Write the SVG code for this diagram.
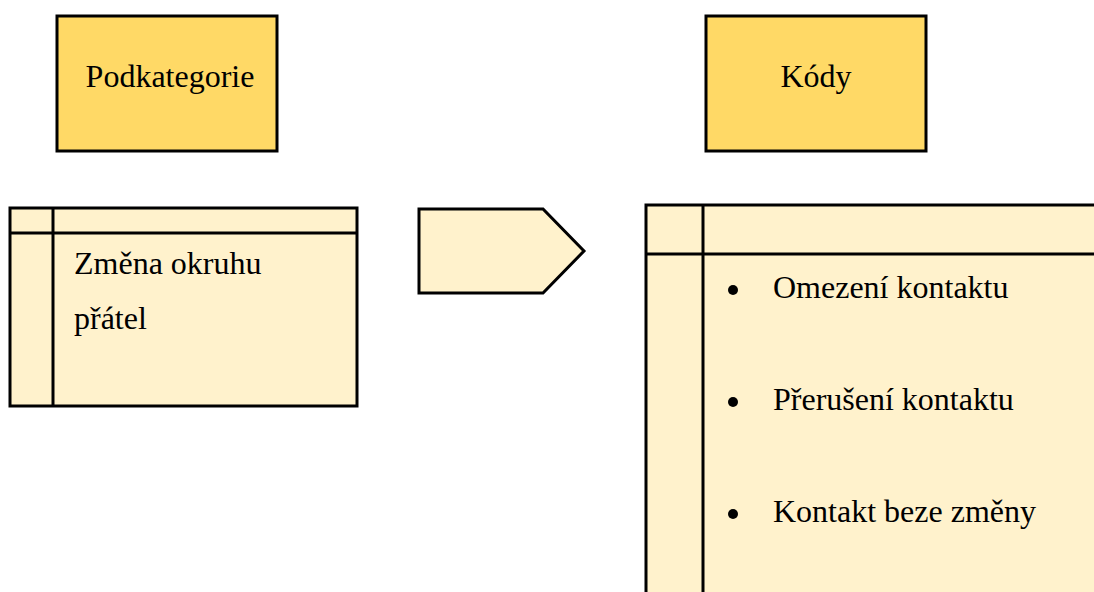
<svg xmlns="http://www.w3.org/2000/svg" width="1094" height="592" viewBox="0 0 1094 592">
<style>
.hdr{fill:#FFD966;stroke:#000;stroke-width:3}
.lt{fill:#FFF2CC;stroke:#000;stroke-width:3}
.ln{stroke:#000;stroke-width:3;fill:none}
text{font-family:"Liberation Serif","Times New Roman",serif;font-size:32px;fill:#000}
</style>
<rect width="1094" height="592" fill="#fff"/>
<g id="podkategorie">
<rect class="hdr" x="57" y="16" width="220" height="135"/>
<text x="170" y="87" text-anchor="middle">Podkategorie</text>
</g>
<g id="kody">
<rect class="hdr" x="706" y="16" width="220" height="135"/>
<text x="816" y="87" text-anchor="middle">Kódy</text>
</g>
<g id="zmena">
<rect class="lt" x="10" y="208" width="347" height="198"/>
<line class="ln" x1="53" y1="208" x2="53" y2="406"/>
<line class="ln" x1="10" y1="233" x2="357" y2="233"/>
<text x="74" y="274">Změna okruhu</text>
<text x="74" y="329">přátel</text>
</g>
<g id="connectors">
<polygon class="lt" points="419,209 543,209 584,251 543,293 419,293"/>
</g>
<g id="kody-list">
<rect class="lt" x="646" y="205" width="460" height="400"/>
<line class="ln" x1="703" y1="205" x2="703" y2="600"/>
<line class="ln" x1="646" y1="254" x2="1100" y2="254"/>
<circle cx="733" cy="290" r="5"/>
<circle cx="733" cy="402" r="5"/>
<circle cx="733" cy="514" r="5"/>
<text x="773" y="298">Omezení kontaktu</text>
<text x="773" y="410">Přerušení kontaktu</text>
<text x="773" y="522">Kontakt beze změny</text>
</g>
</svg>
